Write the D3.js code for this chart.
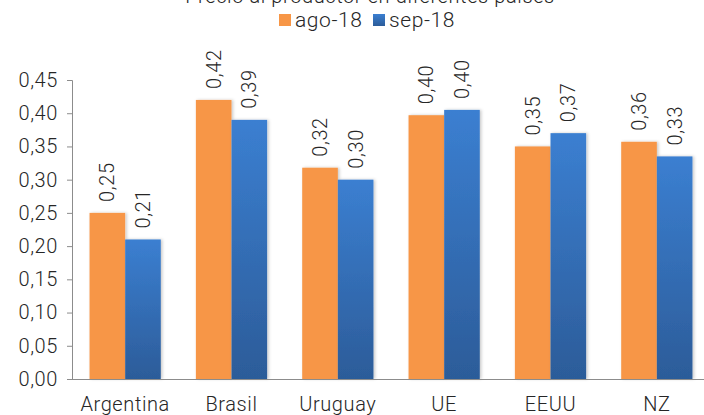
<!DOCTYPE html>
<html>
<head>
<meta charset="utf-8">
<script src="https://cdn.jsdelivr.net/npm/d3@7"></script>
<style>
body{margin:0;background:#fff;}
text{font-family:"Roboto","Noto Sans",sans-serif;fill:#262626;font-weight:300;letter-spacing:0.6px;}
</style>
</head>
<body>
<div id="chart"></div>
<script>
var categories = ['Argentina','Brasil','Uruguay','UE','EEUU','NZ'];
var series = ['ago-18','sep-18'];
var ago18 = [0.25,0.42,0.318,0.397,0.35,0.357];
var sep18 = [0.21,0.39,0.30,0.405,0.37,0.335];
var labels_ago = ['0,25','0,42','0,32','0,40','0,35','0,36'];
var labels_sep = ['0,21','0,39','0,30','0,40','0,37','0,33'];
var ticks = [0,0.05,0.10,0.15,0.20,0.25,0.30,0.35,0.40,0.45];
var title = 'Precio al productor en diferentes países';

var w=704, h=415;
var svg = d3.select('#chart').append('svg').attr('width',w).attr('height',h);

var defs = svg.append('defs');
var grad = defs.append('linearGradient').attr('id','blueg').attr('x1',0).attr('y1',0).attr('x2',0).attr('y2',1);
grad.append('stop').attr('offset','0%').attr('stop-color','#3b7fd1');
grad.append('stop').attr('offset','100%').attr('stop-color','#2c5c99');
var sh = defs.append('filter').attr('id','shadow').attr('x','-20%').attr('y','-5%').attr('width','140%').attr('height','110%');
sh.append('feDropShadow').attr('dx',1.5).attr('dy',0).attr('stdDeviation',1.5).attr('flood-color','#000').attr('flood-opacity',0.22);

var x0 = d3.scaleBand().domain(categories).range([72,710]).paddingInner(0.33).paddingOuter(0.165);
var x1 = d3.scaleBand().domain(series).range([0,x0.bandwidth()]);
var y = d3.scaleLinear().domain([0,0.45]).range([379,80]);

var data = categories.map(function(c,i){
	return {cat:c, vals:[{s:'ago-18',v:ago18[i],l:labels_ago[i]},{s:'sep-18',v:sep18[i],l:labels_sep[i]}]};
});
var colors = {'ago-18':'#f79646','sep-18':'url(#blueg)'};

// y axis
var yAxis = d3.axisLeft(y).tickValues(ticks).tickSize(5).tickPadding(9)
	.tickFormat(function(d){return d3.format('.2f')(d).replace('.',',');});
var ga = svg.append('g').attr('transform','translate(72,0)').call(yAxis);
ga.select('.domain').attr('stroke','#8c8c8c').attr('d','M-5,80.5H0.5V379.5');
ga.selectAll('.tick line').attr('stroke','#8c8c8c');
ga.selectAll('.tick text').style('font-size','20px').attr('fill','#262626').attr('font-family',null);

var groups = svg.selectAll('.grp').data(data).enter().append('g')
	.attr('transform',function(d){return 'translate('+x0(d.cat)+',0)';});

groups.selectAll('rect').data(function(d){return d.vals;}).enter().append('rect')
	.attr('x',function(d){return x1(d.s);})
	.attr('y',function(d){return y(d.v);})
	.attr('width',x1.bandwidth())
	.attr('height',function(d){return y(0)-y(d.v);})
	.attr('fill',function(d){return colors[d.s];})
	.attr('filter','url(#shadow)');

groups.selectAll('.perc').data(function(d){return d.vals;}).enter().append('text').attr('class','perc')
	.attr('transform',function(d){return 'translate('+(x1(d.s)+x1.bandwidth()/2+7)+','+(y(d.v)-11)+') rotate(-90)';})
	.style('font-size','20px')
	.text(function(d){return d.l;});

// x axis
svg.append('line').attr('x1',72).attr('x2',704).attr('y1',379.5).attr('y2',379.5).attr('stroke','#8c8c8c');
svg.selectAll('.cat').data(categories).enter().append('text').attr('class','cat')
	.attr('x',function(d){return x0(d)+x0.bandwidth()/2;})
	.attr('y',411)
	.attr('text-anchor','middle')
	.style('font-size','20px')
	.text(function(d){return d;});

// title + legend
svg.append('text').attr('x',370).attr('y',3).attr('text-anchor','middle')
	.style('font-size','20px').text(title);
var leg = svg.append('g');
var legx = [279,373];
series.forEach(function(s,i){
	leg.append('rect').attr('x',legx[i]).attr('y',14).attr('width',12).attr('height',12)
		.attr('fill',colors[s]);
	leg.append('text').attr('x',legx[i]+16).attr('y',27).style('font-size','21px').text(s);
});
</script>
</body>
</html>
